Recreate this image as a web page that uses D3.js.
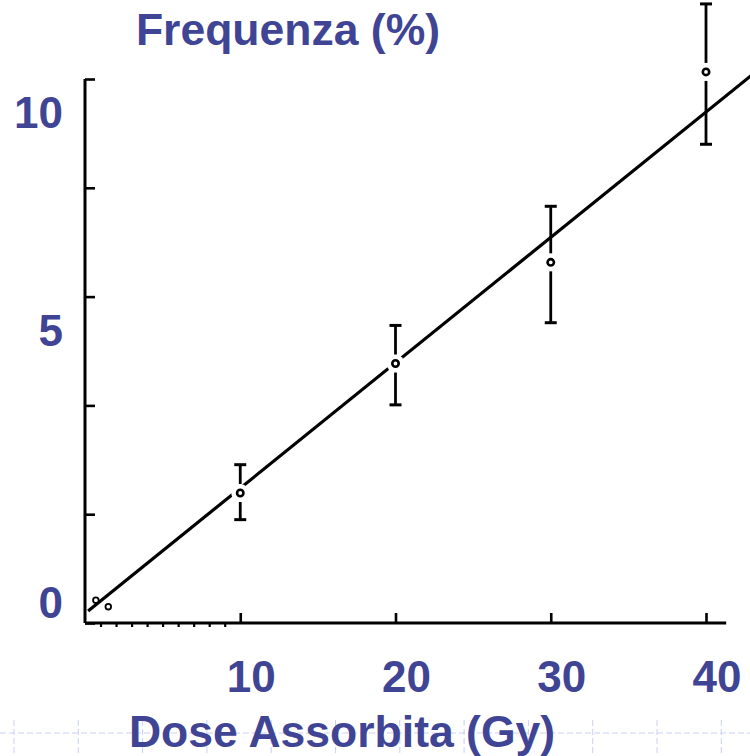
<!DOCTYPE html>
<html>
<head>
<meta charset="utf-8">
<script src="https://cdn.jsdelivr.net/npm/d3@7"></script>
<style>
  html, body { margin: 0; padding: 0; background: #ffffff; }
  svg { display: block; }
</style>
</head>
<body>
<svg id="chart" width="750" height="756"></svg>
<script>
// ---------------- DATA ----------------
const doses      = [10, 20, 30, 40];          // Gy
const frequency  = [2.39, 4.77, 6.63, 10.13]; // %
const errLow     = [1.90, 4.01, 5.52, 8.80];
const errHigh    = [2.91, 5.47, 7.66, 11.38];
const lowDoses   = [0.7, 1.5];
const lowFreq    = [0.42, 0.30];
const fitDose    = [0.2, 43.5];
const fitFreq    = [0.22, 10.2];
const xTickValues = [10, 20, 30, 40];
const xTickLabels = ["10", "20", "30", "40"];
const yTickValues = [0, 2, 4, 6, 8, 10];
const yLabelValues = [0, 5, 10];
const yLabelTexts  = ["0", "5", "10"];
const titleText  = "Frequenza (%)";
const xTitleText = "Dose Assorbita (Gy)";

// ---------------- LAYOUT ----------------
const W = 750, H = 756;
const labelColor = "#3f4594";
const font = "'Liberation Sans', Arial, Helvetica, sans-serif";
const svg = d3.select("#chart");

const x = d3.scaleLinear().domain([0, 40]).range([85, 706]);
const y = d3.scaleLinear().domain([0, 10]).range([623, 79]);

// background slide grid (faint dashed)
const gridG = svg.append("g").attr("stroke", "#c9d1f3").attr("stroke-width", 1)
  .attr("stroke-dasharray", "6,3").attr("fill", "none");
gridG.append("line").attr("x1", 0).attr("x2", W).attr("y1", 733).attr("y2", 733);
d3.range(14, W, 64.3).forEach(gx => {
  gridG.append("line").attr("x1", gx).attr("x2", gx).attr("y1", 720).attr("y2", H);
});

const plot = svg.append("g");

// axes lines
const axisLine = d3.line().x(d => d[0]).y(d => d[1]);
plot.append("path")
  .attr("d", axisLine([[x(0), y(0)], [x(41.3), y(0)]]))
  .attr("stroke", "#000").attr("stroke-width", 3).attr("fill", "none");
plot.append("path")
  .attr("d", axisLine([[x(0), y(0)], [x(0), y(10)]]))
  .attr("stroke", "#000").attr("stroke-width", 3).attr("fill", "none");

// y ticks (pointing right)
const yAxis = d3.axisLeft(y).tickValues(yTickValues).tickSizeInner(-10).tickSizeOuter(0).tickFormat("");
const gy = plot.append("g").attr("transform", `translate(${x(0)},0)`).call(yAxis);
gy.select(".domain").remove();
gy.selectAll(".tick line").attr("stroke", "#000").attr("stroke-width", 2.6);

// x ticks (pointing up)
const xAxis = d3.axisBottom(x).tickValues(xTickValues).tickSizeInner(-10).tickSizeOuter(0).tickFormat("");
const gx = plot.append("g").attr("transform", `translate(0,${y(0)})`).call(xAxis);
gx.select(".domain").remove();
gx.selectAll(".tick line").attr("stroke", "#000").attr("stroke-width", 2.6);

// minor ticks below x axis near origin
const xMinor = d3.axisBottom(x).tickValues(d3.range(1, 10)).tickSizeInner(4).tickSizeOuter(0).tickFormat("");
const gxm = plot.append("g").attr("transform", `translate(0,${y(0)})`).call(xMinor);
gxm.select(".domain").remove();
gxm.selectAll(".tick line").attr("stroke", "#000").attr("stroke-width", 2.2);

// fitted line
const fitData = fitDose.map((d, i) => [d, fitFreq[i]]);
svg.append("clipPath").attr("id", "clip").append("rect")
  .attr("x", 0).attr("y", 0).attr("width", W).attr("height", H);
plot.append("path")
  .datum(fitData)
  .attr("clip-path", "url(#clip)")
  .attr("d", d3.line().x(d => x(d[0])).y(d => y(d[1])))
  .attr("stroke", "#000").attr("stroke-width", 3.2).attr("fill", "none");

// data points with error bars
const pts = doses.map((d, i) => ({ d, f: frequency[i], lo: errLow[i], hi: errHigh[i] }));
const gap = 9, cap = 6;
const pg = plot.selectAll("g.pt").data(pts).join("g").attr("class", "pt");
pg.append("circle")
  .attr("cx", p => x(p.d)).attr("cy", p => y(p.f)).attr("r", gap)
  .attr("fill", "#fff");
pg.append("line")
  .attr("x1", p => x(p.d)).attr("x2", p => x(p.d))
  .attr("y1", p => y(p.hi)).attr("y2", p => y(p.f) - gap)
  .attr("stroke", "#000").attr("stroke-width", 2.8);
pg.append("line")
  .attr("x1", p => x(p.d)).attr("x2", p => x(p.d))
  .attr("y1", p => y(p.f) + gap).attr("y2", p => y(p.lo))
  .attr("stroke", "#000").attr("stroke-width", 2.8);
pg.append("line")
  .attr("x1", p => x(p.d) - cap).attr("x2", p => x(p.d) + cap)
  .attr("y1", p => y(p.hi)).attr("y2", p => y(p.hi))
  .attr("stroke", "#000").attr("stroke-width", 3);
pg.append("line")
  .attr("x1", p => x(p.d) - cap).attr("x2", p => x(p.d) + cap)
  .attr("y1", p => y(p.lo)).attr("y2", p => y(p.lo))
  .attr("stroke", "#000").attr("stroke-width", 3);
pg.append("circle")
  .attr("cx", p => x(p.d)).attr("cy", p => y(p.f)).attr("r", 3.2)
  .attr("fill", "#fff").attr("stroke", "#000").attr("stroke-width", 2.6);

// low dose points near origin
plot.selectAll("circle.low").data(lowDoses.map((d, i) => [d, lowFreq[i]])).join("circle")
  .attr("class", "low")
  .attr("cx", d => x(d[0])).attr("cy", d => y(d[1])).attr("r", 2.8)
  .attr("fill", "#fff").attr("stroke", "#000").attr("stroke-width", 1.8);

// ---------------- TEXT ----------------
const txt = svg.append("g").attr("fill", labelColor).attr("font-family", font)
  .attr("font-weight", "bold").attr("font-size", 44);

txt.append("text").attr("x", 288).attr("y", 45).attr("text-anchor", "middle")
  .attr("font-size", 44.5).text(titleText);
txt.append("text").attr("x", 342).attr("y", 747).attr("text-anchor", "middle")
  .attr("font-size", 44.5).text(xTitleText);

txt.selectAll("text.xl").data(xTickValues).join("text").attr("class", "xl")
  .attr("x", v => x(v) + 11).attr("y", 692).attr("text-anchor", "middle")
  .text((v, i) => xTickLabels[i]);

const yLabelTop = 128;
txt.selectAll("text.yl").data(yLabelValues).join("text").attr("class", "yl")
  .attr("x", 63).attr("y", v => Math.max(y(v) - 5, yLabelTop)).attr("text-anchor", "end")
  .text((v, i) => yLabelTexts[i]);
</script>
</body>
</html>
